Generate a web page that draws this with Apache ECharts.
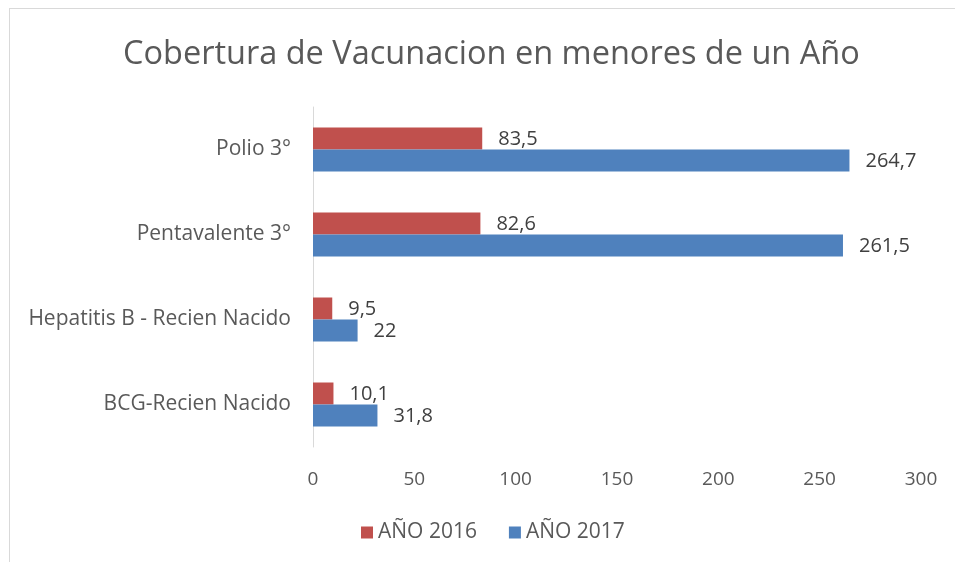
<!DOCTYPE html>
<html>
<head>
    <meta charset="UTF-8">
    <title>Cobertura de Vacunacion</title>
    <script type="text/javascript" src="https://cdn.jsdelivr.net/npm/echarts@6/dist/echarts.min.js"></script>
    <style type="text/css">
        html, body { margin: 0; padding: 0; background: #fff; }
        #frame {
            position: absolute; left: 9px; top: 8px; width: 1000px; height: 600px;
            border-left: 1px solid #d9d9d9; border-top: 1px solid #d9d9d9;
        }
        #main { position: absolute; left: 0; top: 0; width: 955px; height: 562px; }
    </style>
</head>
<body>
<div id="frame"></div>
<div id="main"></div>
<script>
// categorias de abajo hacia arriba
var categorias = ['BCG-Recien Nacido', 'Hepatitis B - Recien Nacido', 'Pentavalente 3°', 'Polio 3°'];
var anio2016 = [10.1, 9.5, 82.6, 83.5];
var anio2017 = [31.8, 22, 261.5, 264.7];
var ticksX = [0, 50, 100, 150, 200, 250, 300];

var fuente = 'Open Sans';
var myChart = echarts.init(document.getElementById('main'));

function coma(p) {
    return String(p.value).replace('.', ',');
}

myChart.setOption({
    animation: false,
    title: {
        text: 'Cobertura de Vacunacion en menores de un Año',
        left: 118,
        top: 33,
        textStyle: { fontFamily: fuente, fontSize: 32.5, fontWeight: 'normal', color: '#595959' }
    },
    legend: {
        data: ['AÑO 2016', 'AÑO 2017'],
        top: 517,
        left: 356,
        itemWidth: 12,
        itemHeight: 12,
        itemGap: 32,
        icon: 'rect',
        textStyle: { fontFamily: fuente, fontSize: 21, color: '#595959' }
    },
    grid: { left: 313, right: 34, top: 107, bottom: 115 },
    xAxis: {
        type: 'value',
        min: ticksX[0],
        max: ticksX[ticksX.length - 1],
        interval: 50,
        axisLine: { show: false },
        axisTick: { show: false },
        splitLine: { show: false },
        axisLabel: { margin: 23, fontFamily: fuente, fontSize: 19, color: '#595959' }
    },
    yAxis: {
        type: 'category',
        data: categorias,
        axisLine: { show: true, lineStyle: { color: '#d9d9d9', width: 1 } },
        axisTick: { show: false },
        axisLabel: { margin: 22, fontFamily: fuente, fontSize: 21, color: '#595959' }
    },
    series: [{
        name: 'AÑO 2016',
        type: 'bar',
        data: anio2016,
        barWidth: 22,
        barGap: '0%',
        itemStyle: { color: '#c0504d' },
        label: { show: true, position: 'right', distance: 16, formatter: coma,
                 fontFamily: fuente, fontSize: 20, color: '#404040', offset: [0, 1] }
    }, {
        name: 'AÑO 2017',
        type: 'bar',
        data: anio2017,
        barWidth: 22,
        barGap: '0%',
        itemStyle: { color: '#4f81bd' },
        label: { show: true, position: 'right', distance: 16, formatter: coma,
                 fontFamily: fuente, fontSize: 20, color: '#404040', offset: [0, 1] }
    }]
});
</script>
</body>
</html>
